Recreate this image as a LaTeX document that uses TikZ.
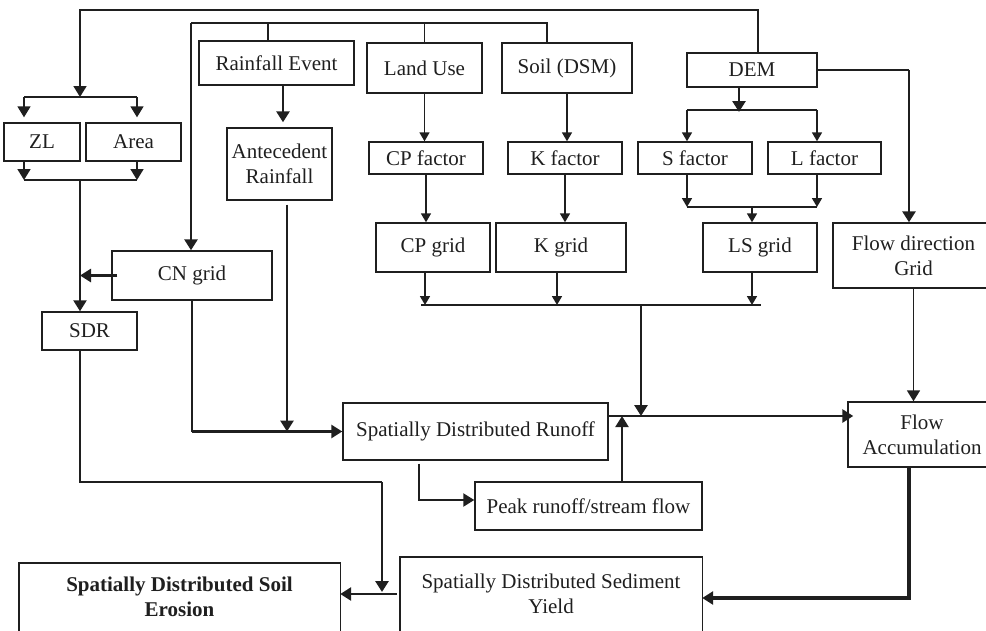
\documentclass[tikz,border=0pt]{standalone}
\usepackage{fontspec}
\setmainfont{Liberation Serif}
\usetikzlibrary{arrows.meta}
\begin{document}
\begin{tikzpicture}[x=1pt, y=-1pt, font=\fontsize{21}{25}\selectfont, black!88,
          box/.style={draw, line width=1.4pt, inner sep=0pt, align=center},
          txt/.style={inner sep=0pt, align=center},
          frame/.style={line width=1.4pt},
          ln/.style={line width=1.7pt},
          md/.style={line width=2.2pt},
          tk/.style={line width=2.8pt},
          arr/.style={-{Triangle[length=9pt,width=10pt]}},
          tarr/.style={-{Triangle[length=11pt,width=13pt]}}]
        \useasboundingbox (0,0) rectangle (986,630);
        % inputs
        \node[box, minimum width=155pt, minimum height=44pt] (rain) at (276.5,63) {Rainfall Event};
        \node[box, minimum width=115pt, minimum height=50pt] (landuse) at (424.5,68) {Land Use};
        \node[box, minimum width=130pt, minimum height=50pt] (soil) at (567,68) {Soil (DSM)};
        \node[box, minimum width=130pt, minimum height=34pt] (dem) at (752,70) {DEM};
        \node[box, minimum width=76pt, minimum height=38pt] (zl) at (42,142) {ZL};
        \node[box, minimum width=95pt, minimum height=38pt] (area) at (133.5,142) {Area};
        \node[box, minimum width=105pt, minimum height=72pt] (ante) at (279.5,164) {Antecedent\\Rainfall};
        % factors and grids
        \node[box, minimum width=114pt, minimum height=32pt] (cpf) at (426,158) {CP factor};
        \node[box, minimum width=114pt, minimum height=32pt] (kf) at (565,158) {K factor};
        \node[box, minimum width=114pt, minimum height=32pt] (sf) at (695,158) {S factor};
        \node[box, minimum width=113pt, minimum height=32pt] (lf) at (824.5,158) {L factor};
        \node[box, minimum width=114pt, minimum height=49pt] (cpg) at (433,247.5) {CP grid};
        \node[box, minimum width=130pt, minimum height=49pt] (kg) at (561,247.5) {K grid};
        \node[box, minimum width=114pt, minimum height=49pt] (lsg) at (760,247.5) {LS grid};
        \node[box, minimum width=161pt, minimum height=65pt] (fdg) at (913.5,255.5) {Flow direction\\Grid};
        \node[box, minimum width=160pt, minimum height=49pt] (cn) at (192,275.5) {CN grid};
        \node[box, minimum width=95pt, minimum height=38pt] (sdr) at (89.5,331) {SDR};
        % outputs
        \node[box, minimum width=265pt, minimum height=57pt] (runoff) at (475.5,431.5) {Spatially Distributed Runoff};
        \node[box, minimum width=148pt, minimum height=65pt] (flowacc) at (922,434.5) {Flow\\Accumulation};
        \node[box, minimum width=227pt, minimum height=48pt] (peak) at (588.5,506) {Peak runoff/stream flow};
        \node[txt, minimum width=302pt, minimum height=74pt] (sed) at (551,594) {Spatially Distributed Sediment\\Yield};
        \node[txt, minimum width=321pt, minimum height=68pt, font=\fontsize{21}{25}\selectfont\bfseries] (erosion) at (179.5,597) {Spatially Distributed Soil\\Erosion};
        \draw[frame] ([yshift=-20pt]sed.south west) |- (sed.north east) -- ([yshift=-20pt]sed.south east);
        \draw[frame] ([yshift=-20pt]erosion.south west) |- (erosion.north east) -- ([yshift=-20pt]erosion.south east);
        % junctions
        \coordinate (top1) at (80,10);
        \coordinate (split1) at (80,97);
        \coordinate (zlin) at (24,97);
        \coordinate (arin) at (137,97);
        \coordinate (zlout) at (24,180);
        \coordinate (arout) at (137,180);
        \coordinate (merge1) at (80,180);
        \coordinate (top2) at (191,23);
        \coordinate (dbarl) at (687,110);
        \coordinate (dbarr) at (817,110);
        \coordinate (sbarl) at (687,207);
        \coordinate (sbarr) at (817,207);
        \coordinate (gbarl) at (421,305);
        \coordinate (gbarr) at (761,305);
        \coordinate (gmid) at (641,305);
        \coordinate (rline) at (641,416);
        \coordinate (sdrturn) at (382,482);
        \coordinate (demturn) at (909,70);
        % DEM to ZL / Area and SDR
        \draw[ln, tarr] ([xshift=6pt]dem.north) |- (top1) -- (split1);
        \draw[ln] (zlin) -- (arin);
        \draw[ln, tarr] (zlin) -- ([yshift=5pt]zlin |- zl.north);
        \draw[ln, tarr] (arin) -- ([yshift=5pt]arin |- area.north);
        \draw[ln, tarr] (zlin |- zl.south) -- (zlout);
        \draw[ln, tarr] (arin |- area.south) -- (arout);
        \draw[ln] (zlout) -- (arout);
        \draw[md, tarr] (merge1) -- (merge1 |- sdr.north);
        \draw[tk, tarr] ([xshift=6pt]cn.west) -- (cn.west -| merge1);
        % inputs to CN grid
        \draw[ln] (top2) -| ([xshift=-20pt]soil.north);
        \draw[ln] ([xshift=-8.5pt]rain.north) -- ([xshift=-8.5pt]rain.north |- top2);
        \draw[ln] (landuse.north) -- (landuse.north |- top2);
        \draw[tk, tarr] (top2) -- (top2 |- cn.north);
        \draw[tk, tarr, shorten >=5pt] ([xshift=6.5pt]rain.south) -- ([xshift=3.5pt]ante.north);
        % USLE factors
        \draw[ln, arr] (landuse.south) -- (landuse.south |- cpf.north);
        \draw[ln, arr] (soil.south) -- (soil.south |- kf.north);
        \draw[ln, arr] (cpf.south) -- (cpf.south |- cpg.north);
        \draw[ln, arr] (kf.south) -- (kf.south |- kg.north);
        \draw[tk, tarr] ([xshift=-13pt]dem.south) -- ([xshift=-13pt, yshift=-2pt]dem.south |- dbarl);
        \draw[ln] (dbarl) -- (dbarr);
        \draw[ln, arr] (dbarl) -- (dbarl |- sf.north);
        \draw[ln, arr] (dbarr) -- (dbarr |- lf.north);
        \draw[ln, arr] (sbarl |- sf.south) -- (sbarl);
        \draw[ln, arr] (sbarr |- lf.south) -- (sbarr);
        \draw[ln] (sbarl) -- (sbarr);
        \draw[ln, arr] ([xshift=-8pt]lsg.north |- sbarl) -- ([xshift=-8pt]lsg.north);
        \draw[ln] (gbarl) -- (gbarr);
        \draw[ln, arr] ([xshift=-8pt]cpg.south) -- ([xshift=-8pt]cpg.south |- gbarl);
        \draw[ln, arr] ([xshift=-4pt]kg.south) -- ([xshift=-4pt]kg.south |- gbarl);
        \draw[ln, arr] ([xshift=-8pt]lsg.south) -- ([xshift=-8pt]lsg.south |- gbarl);
        \draw[tk, tarr] (gmid) -- (rline);
        % runoff
        \draw[md] (cn.south) -- (cn.south |- runoff.west);
        \draw[tk, tarr] (cn.south |- runoff.west) -- (runoff.west);
        \draw[tk, tarr, shorten <=4pt] ([xshift=7.5pt]ante.south) -- ([xshift=7.5pt]ante.south |- runoff.west);
        \draw[tk, tarr] ([yshift=15.5pt]runoff.east) -- ([xshift=6pt, yshift=18.5pt]flowacc.west);
        \draw[md, tarr, shorten <=3pt] ([xshift=-56.5pt]runoff.south) |- ([yshift=6pt]peak.west);
        \draw[md, tarr] ([xshift=33.5pt]peak.north) -- ([xshift=33.5pt]peak.north |- rline);
        % flow routing
        \draw[ln] (dem.east) -- (demturn);
        \draw[tk, tarr] (demturn) -- (demturn |- fdg.north);
        \draw[ln, tarr] (fdg.south) -- (fdg.south |- flowacc.north);
        \draw[line width=3.2pt, tarr] ([xshift=-13pt]flowacc.south) |- ([yshift=-4pt]sed.east);
        % soil erosion
        \draw[tk, tarr] ([xshift=-3pt]sed.west) -- (sed.west -| erosion.east);
        \draw[md] ([xshift=-9.5pt]sdr.south) |- (sdrturn);
        \draw[tk, tarr] (sdrturn) -- ([yshift=2pt]sdrturn |- sed.west);
      \end{tikzpicture}
\end{document}
